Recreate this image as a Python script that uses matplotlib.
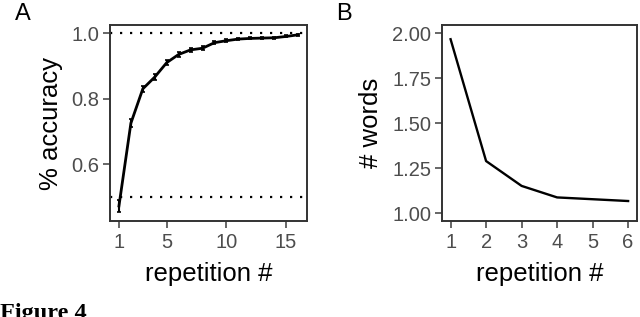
import numpy as np
import matplotlib.pyplot as plt

plt.rcParams['font.family'] = ['Liberation Sans', 'DejaVu Sans']

# panel A: accuracy over repetitions
reps_a = list(range(1, 17))
accuracy = [0.472, 0.725, 0.830, 0.866, 0.910, 0.935, 0.949, 0.954,
            0.971, 0.977, 0.982, 0.984, 0.985, 0.986, 0.990, 0.995]
acc_err = [0.018, 0.012, 0.010, 0.009, 0.008, 0.007, 0.006, 0.006,
           0.005, 0.004, 0.004, 0.003, 0.003, 0.003, 0.003, 0.003]
ref_lines = [1.0, 0.5]

# panel B: number of words over repetitions
reps_b = [1, 2, 3, 4, 5, 6]
n_words = [1.967, 1.290, 1.152, 1.088, 1.078, 1.068]

tick_gray = '#4D4D4D'
frame_gray = '#333333'


def style_axes(ax):
    for s in ax.spines.values():
        s.set_color(frame_gray)
        s.set_linewidth(1.4)
    ax.tick_params(axis='both', colors=tick_gray, labelcolor=tick_gray,
                   labelsize=14.5, length=5, width=1.2, direction='out')
    ax.tick_params(axis='x', pad=4)
    ax.tick_params(axis='y', pad=2.5)


fig = plt.figure(figsize=(6.4, 3.17), dpi=100)

# --- A ---
axA = fig.add_axes([110 / 640, 1 - 221 / 317, 197 / 640, 196 / 317])
for y in ref_lines:
    axA.axhline(y, color='black', linestyle=(0, (1, 3.5)), linewidth=1.6)
axA.errorbar(reps_a, accuracy, yerr=acc_err, color='black', linewidth=2.0,
             elinewidth=1.5, capsize=1.5, capthick=1.2)
axA.set_xlim(0.25, 16.75)
axA.set_ylim(0.426, 1.025)
axA.set_xticks([1, 5, 10, 15])
axA.set_yticks([0.6, 0.8, 1.0])
axA.set_yticklabels(['0.6', '0.8', '1.0'])
axA.set_xlabel('repetition #', fontsize=18.5, labelpad=7)
axA.set_ylabel('% accuracy', fontsize=18.5, labelpad=6)
style_axes(axA)

# --- B ---
axB = fig.add_axes([441.7 / 640, 1 - 221 / 317, 195.3 / 640, 196 / 317])
axB.plot(reps_b, n_words, color='black', linewidth=1.7)
axB.set_xlim(0.75, 6.25)
axB.set_ylim(0.957, 2.046)
axB.set_xticks(reps_b)
axB.set_yticks([1.0, 1.25, 1.5, 1.75, 2.0])
axB.set_yticklabels(['1.00', '1.25', '1.50', '1.75', '2.00'])
axB.set_xlabel('repetition #', fontsize=18.5, labelpad=7)
axB.set_ylabel('# words', fontsize=18.5, labelpad=7)
style_axes(axB)

fig.text(15 / 640, 1 - 20 / 317, 'A', fontsize=17, va='baseline', ha='left')
fig.text(336 / 640, 1 - 20 / 317, 'B', fontsize=17, va='baseline', ha='left')
fig.text(0, 1 - 319 / 317, 'Figure 4', fontsize=17.5, fontweight='bold',
         family='Liberation Serif', va='baseline', ha='left')

fig.savefig('out.png', dpi=100)
